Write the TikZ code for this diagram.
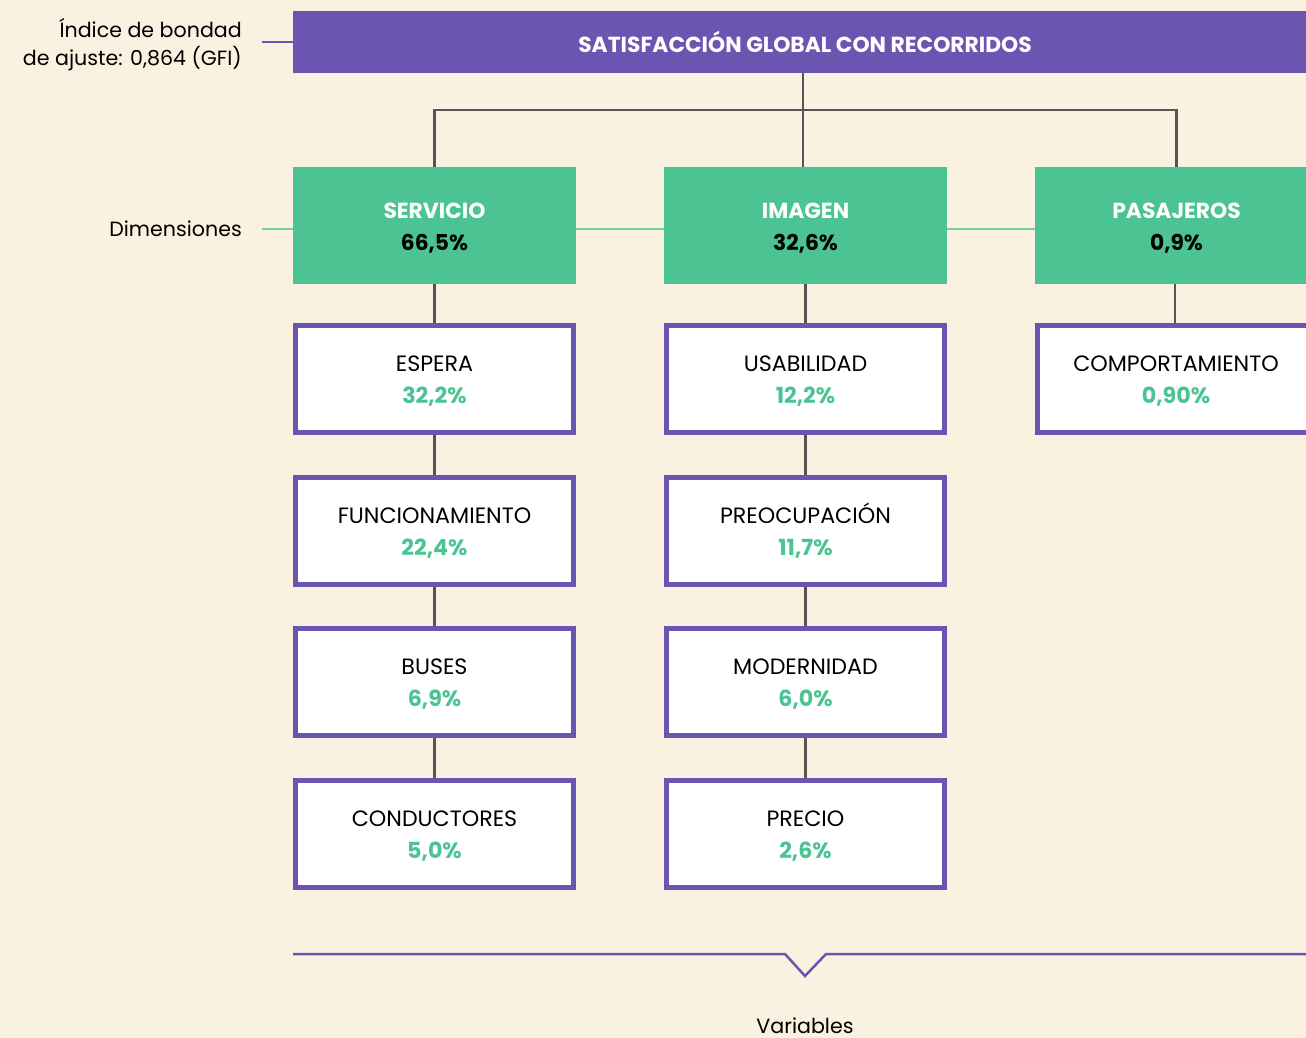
\documentclass[tikz,border=0pt]{standalone}
\usepackage{fontspec}
\setmainfont{Poppins}
\definecolor{paper}{HTML}{FAF1E1}
\definecolor{violet}{HTML}{6A55B0}
\definecolor{mint}{HTML}{4BC393}
\definecolor{mintline}{HTML}{72D0A6}
\definecolor{stem}{HTML}{555555}
\newcommand{\lbl}{\fontsize{22.2}{32}\selectfont}
\newcommand{\lblb}{\fontsize{21.8}{32}\selectfont\bfseries}
\newcommand{\sidefont}{\fontsize{20.6}{28}\selectfont}
% name of a variable over its share
\newcommand{\varitem}[2]{\vphantom{ÓÍ}#1\\\textcolor{mint}{\bfseries #2}}
% name of a dimension over its share
\newcommand{\dimitem}[2]{\vphantom{ÓÍ}#1\\\textcolor{black}{#2}}
\begin{document}
\begin{tikzpicture}[x=1pt,y=-1pt,
  dimbox/.style={fill=mint, minimum width=283pt, minimum height=117pt, inner sep=0pt,
                 align=center, font=\lblb, text=white},
  varbox/.style={draw=violet, line width=5pt, fill=white, minimum width=278pt,
                 minimum height=107pt, inner sep=0pt, align=center, font=\lbl},
  side/.style={font=\sidefont, anchor=east, align=right, inner sep=0pt},
  tree/.style={draw=stem, line width=2.2pt},
  link/.style={draw=mintline, line width=2pt},
  tick/.style={draw=violet, line width=2.5pt}]
\clip (0,0) rectangle (1306,1038);
\fill[paper] (0,0) rectangle (1306,1038);

% overall construct
\node[fill=violet, minimum width=1020pt, minimum height=62pt, inner sep=0pt,
      text=white, font=\lblb] (top) at (803,42) {\hspace*{4pt}SATISFACCIÓN GLOBAL CON RECORRIDOS};
\node[side] (gfi) at (242,45) {Índice de bondad\\de ajuste: 0,864 (GFI)};
\coordinate (gfitick) at (262,42);
\draw[tick] (gfitick) -- (gfitick -| top.west);

% dimensions
\node[dimbox] (serv) at (434.5,225.5) {\dimitem{SERVICIO}{66,5\%}};
\node[dimbox] (imag) at (805.5,225.5) {\dimitem{IMAGEN}{32,6\%}};
\node[dimbox] (pasa) at (1176.5,225.5) {\dimitem{PASAJEROS}{0,9\%}};

\coordinate (hub) at (803,110);
\draw[tree] (top.south -| hub) -- (hub);
\draw[tree] (serv.north) |- (hub) -| (pasa.north);
\draw[tree] (hub) -- (hub |- imag.north);

\node[side] (dimlab) at (242,229) {Dimensiones};
\coordinate (dimtick) at (262,229);
\draw[link] (dimtick) -- (dimtick -| serv.west);
\draw[link] (serv.east |- dimtick) -- (imag.west |- dimtick);
\draw[link] (imag.east |- dimtick) -- (pasa.west |- dimtick);

% variables
\node[varbox] (esp) at (434.5,379) {\varitem{ESPERA}{32,2\%}};
\node[varbox] (fun) at (434.5,531) {\varitem{FUNCIONAMIENTO}{22,4\%}};
\node[varbox] (bus) at (434.5,682) {\varitem{BUSES}{6,9\%}};
\node[varbox] (con) at (434.5,834) {\varitem{CONDUCTORES}{5,0\%}};

\node[varbox] (usa) at (805.5,379) {\varitem{USABILIDAD}{12,2\%}};
\node[varbox] (pre) at (805.5,531) {\varitem{PREOCUPACIÓN}{11,7\%}};
\node[varbox] (mod) at (805.5,682) {\varitem{MODERNIDAD}{6,0\%}};
\node[varbox] (prc) at (805.5,834) {\varitem{PRECIO}{2,6\%}};

\node[varbox] (com) at (1176,379) {\varitem{COMPORTAMIENTO}{0,90\%}};

\draw[tree] (serv) -- (esp);
\draw[tree] (esp) -- (fun);
\draw[tree] (fun) -- (bus);
\draw[tree] (bus) -- (con);
\draw[tree] (imag) -- (usa);
\draw[tree] (usa) -- (pre);
\draw[tree] (pre) -- (mod);
\draw[tree] (mod) -- (prc);
\draw[tree] (pasa.south -| 1175,0) -- (com.north -| 1175,0);

% bracket over the variables
\coordinate (bl) at (293,954);
\coordinate (br) at (1320,954);
\coordinate (vtip) at (805,976);
\draw[tick, line join=miter] (bl) -- (785,954) -- (vtip) -- (826,954) -- (br);
\node[font=\sidefont, anchor=base, inner sep=0pt] (varlab) at (805,1033) {Variables};
\end{tikzpicture}
\end{document}
